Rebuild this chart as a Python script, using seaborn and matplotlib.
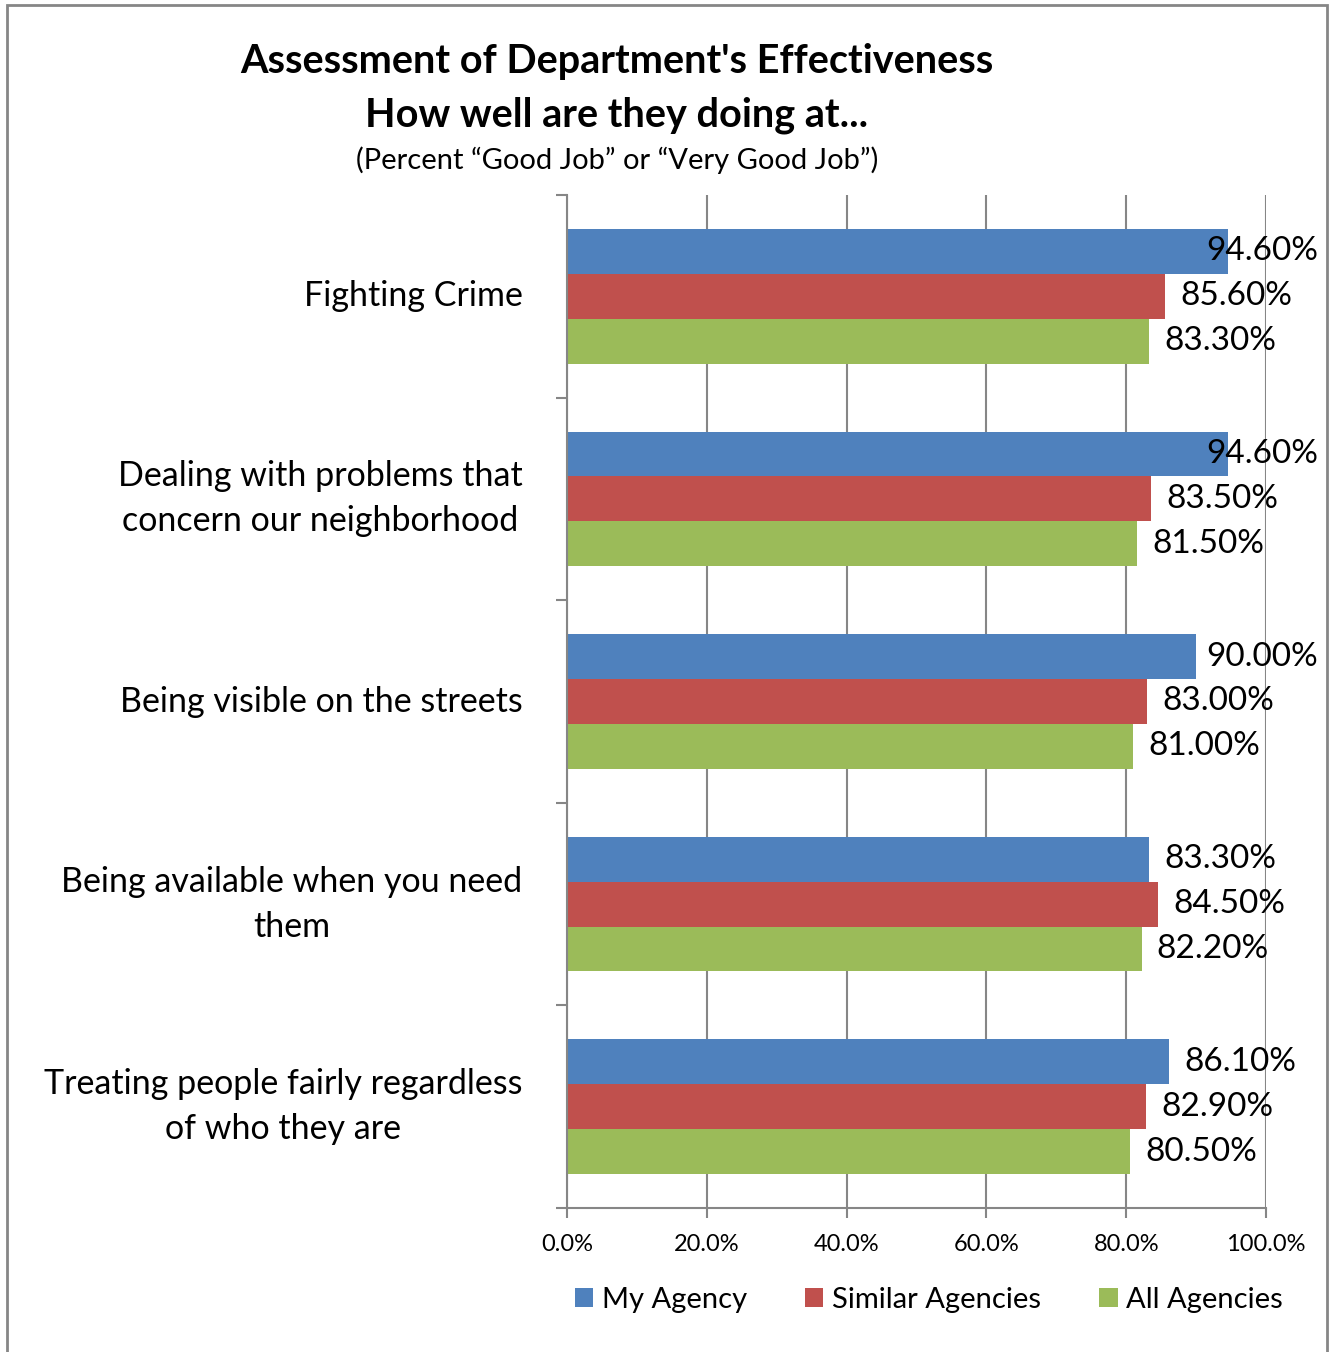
import matplotlib
matplotlib.use("Agg")
import matplotlib.pyplot as plt
import seaborn as sns
import pandas as pd
from matplotlib.patches import Rectangle, Patch
from matplotlib.ticker import FixedLocator

categories = ["Fighting Crime",
              "Dealing with problems that\nconcern our neighborhood",
              "Being visible on the streets",
              "Being available when you need\nthem",
              "Treating people fairly regardless\nof who they are"]
series = ["My Agency", "Similar Agencies", "All Agencies"]
my_agency = [94.6, 94.6, 90.0, 83.3, 86.1]
similar_agencies = [85.6, 83.5, 83.0, 84.5, 82.9]
all_agencies = [83.3, 81.5, 81.0, 82.2, 80.5]
x_ticks = [0, 20, 40, 60, 80, 100]
colors = ["#4F81BD", "#C0504D", "#9BBB59"]

rows = []
for s, vals in zip(series, [my_agency, similar_agencies, all_agencies]):
    for c, v in zip(categories, vals):
        rows.append({"category": c, "series": s, "value": v})
df = pd.DataFrame(rows)

sns.set_style("white")
plt.rcParams['font.family'] = ['Lato', 'DejaVu Sans']
plt.rcParams['text.color'] = 'black'
plt.rcParams['xtick.color'] = '#868686'
plt.rcParams['ytick.color'] = '#868686'
plt.rcParams['xtick.labelcolor'] = 'black'
plt.rcParams['ytick.labelcolor'] = 'black'

W, H = 1331, 1352
fig = plt.figure(figsize=(W / 100, H / 100), dpi=100)
ax = fig.add_axes([567 / W, 1 - 1208 / H, (1266 - 567) / W, (1208 - 195) / H])

sns.barplot(data=df, y="category", x="value", hue="series", hue_order=series,
            order=categories, palette=colors, orient="h", width=0.665,
            saturation=1, legend=False, ax=ax, linewidth=0, errorbar=None)

ax.set_xlim(0, 100)
ax.set_ylim(4.5, -0.5)
ax.set_xlabel("")
ax.set_ylabel("")
ax.xaxis.set_major_locator(FixedLocator(x_ticks))
ax.set_xticklabels([f"{t:.1f}%" for t in x_ticks], fontsize=17)
ax.tick_params(axis="x", bottom=True, length=7, color="#868686", pad=12, width=1.5)
ax.set_yticks(range(len(categories)))
ax.set_yticklabels(categories, fontsize=24.5, multialignment="center", linespacing=1.5,
                   va="center")
ax.tick_params(axis="y", which="major", left=False, length=0, pad=32)
ax.yaxis.set_minor_locator(FixedLocator([i - 0.5 for i in range(len(categories) + 1)]))
ax.tick_params(axis="y", which="minor", left=True, length=8, color="#868686", width=1.5)
ax.set_axisbelow(True)
ax.grid(axis="x", color="#868686", linewidth=1.5)
ax.grid(axis="y", visible=False)
for sp in ["top", "right"]:
    ax.spines[sp].set_visible(False)
for sp in ["left", "bottom"]:
    ax.spines[sp].set_color("#868686")
    ax.spines[sp].set_linewidth(1.5)

# value labels
limit_frac = (1318 - 567) / (1266 - 567)
for cont in ax.containers:
    for bar in cont:
        v = bar.get_width()
        yc = bar.get_y() + bar.get_height() / 2
        label = f"{v:.2f}%"
        if v > 88:
            ax.text(limit_frac, yc, label, transform=ax.get_yaxis_transform(),
                    ha="right", va="center", fontsize=24, clip_on=False)
        else:
            ax.annotate(label, (v, yc), xytext=(11, 0), textcoords="offset points",
                        ha="left", va="center", fontsize=24, annotation_clip=False)

# titles
fig.text(617 / W, 1 - 62 / H, "Assessment of Department's Effectiveness",
         ha="center", va="center", fontsize=28.5, fontweight="bold")
fig.text(617 / W, 1 - 115 / H, "How well are they doing at...",
         ha="center", va="center", fontsize=28.5, fontweight="bold")
fig.text(617 / W, 1 - 160 / H, "(Percent \u201cGood Job\u201d or \u201cVery Good Job\u201d)",
         ha="center", va="center", fontsize=21)

# legend
handles = [Patch(facecolor=c, edgecolor="none") for c in colors]
fig.legend(handles, series, loc="center", bbox_to_anchor=(929 / W, 1 - 1300 / H),
           ncol=3, frameon=False, fontsize=21, handlelength=0.62, handleheight=0.62,
           handletextpad=0.3, columnspacing=2.0)

# outer border
fig.patches.append(Rectangle((7 / W, -0.01), (1327 - 7) / W, 1 - 5 / H + 0.01,
                             transform=fig.transFigure, fill=False,
                             edgecolor="#868686", linewidth=2))

fig.savefig("out.png", dpi=100)
